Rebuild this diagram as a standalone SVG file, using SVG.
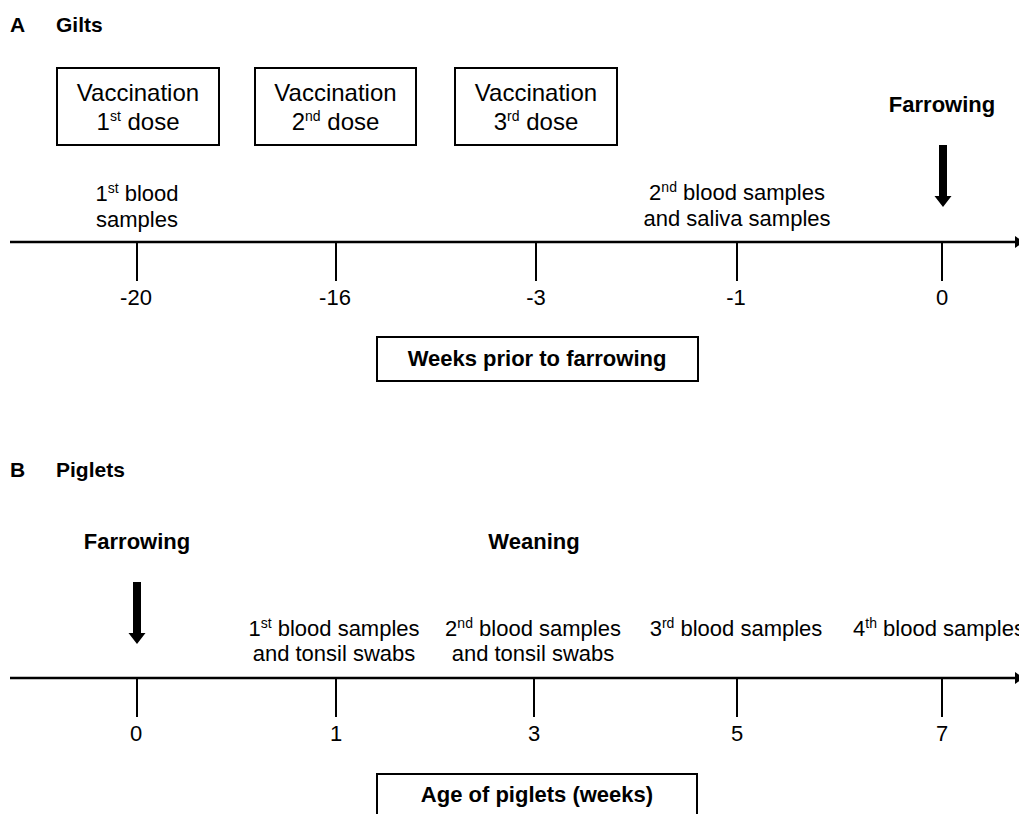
<svg xmlns="http://www.w3.org/2000/svg" width="1019" height="814" viewBox="0 0 1019 814">
<style>
text{font-family:"Liberation Sans",Arial,sans-serif;fill:#000}
.t{font-size:22px;text-anchor:middle}
.v{font-size:24px;text-anchor:middle}
.b{font-size:22px;font-weight:bold;text-anchor:middle}
.h{font-size:21px;font-weight:bold}
.sup{font-size:14px}
.box{fill:#fff;stroke:#000;stroke-width:2}
.axis{stroke:#000;stroke-width:2.5;fill:none}
.tick{stroke:#000;stroke-width:2}
</style>
<defs>
<marker id="ah" markerWidth="9" markerHeight="12" refX="0" refY="6" orient="auto" markerUnits="userSpaceOnUse">
<path d="M0,0 L9,6 L0,12 Z" fill="#000"/>
</marker>
<path id="bigarrow" d="M-4,0 H4 V51 H8.5 L0,62 L-8.5,51 H-4 Z" fill="#000"/>
</defs>
<rect width="1019" height="814" fill="#fff"/>

<g id="panelA-title">
<text class="h" x="10" y="32">A</text>
<text class="h" x="56" y="32">Gilts</text>
</g>

<g id="vacc1">
<rect class="box" x="57" y="68" width="162" height="77"/>
<text class="v" x="138" y="101">Vaccination</text>
<text class="v" x="138" y="130">1<tspan class="sup" dy="-9">st</tspan><tspan dy="9"> dose</tspan></text>
</g>
<g id="vacc2">
<rect class="box" x="255" y="68" width="161" height="77"/>
<text class="v" x="335.5" y="101">Vaccination</text>
<text class="v" x="335.5" y="130">2<tspan class="sup" dy="-9">nd</tspan><tspan dy="9"> dose</tspan></text>
</g>
<g id="vacc3">
<rect class="box" x="455" y="68" width="162" height="77"/>
<text class="v" x="536" y="101">Vaccination</text>
<text class="v" x="536" y="130">3<tspan class="sup" dy="-9">rd</tspan><tspan dy="9"> dose</tspan></text>
</g>

<g id="farrowingA">
<text class="b" x="942" y="112">Farrowing</text>
<use href="#bigarrow" x="943" y="145"/>
</g>

<g id="samplesA1">
<text class="t" x="137" y="201">1<tspan class="sup" dy="-8">st</tspan><tspan dy="8"> blood</tspan></text>
<text class="t" x="137" y="227">samples</text>
</g>
<g id="samplesA2">
<text class="t" x="737" y="200">2<tspan class="sup" dy="-8">nd</tspan><tspan dy="8"> blood samples</tspan></text>
<text class="t" x="737" y="226">and saliva samples</text>
</g>

<g id="axisA">
<line class="axis" x1="10" y1="242" x2="1015" y2="242" marker-end="url(#ah)"/>
<line class="tick" x1="137" y1="242" x2="137" y2="281"/>
<line class="tick" x1="336" y1="242" x2="336" y2="281"/>
<line class="tick" x1="536" y1="242" x2="536" y2="281"/>
<line class="tick" x1="737" y1="242" x2="737" y2="281"/>
<line class="tick" x1="942" y1="242" x2="942" y2="281"/>
<text class="t" x="136" y="305">-20</text>
<text class="t" x="335" y="305">-16</text>
<text class="t" x="536" y="305">-3</text>
<text class="t" x="736" y="305">-1</text>
<text class="t" x="942" y="305">0</text>
</g>

<g id="weeksBox">
<rect class="box" x="377" y="337" width="321" height="44"/>
<text class="b" x="537" y="366">Weeks prior to farrowing</text>
</g>

<g id="panelB-title">
<text class="h" x="10" y="477">B</text>
<text class="h" x="56" y="477">Piglets</text>
</g>

<g id="farrowingB">
<text class="b" x="137" y="549">Farrowing</text>
<use href="#bigarrow" x="137" y="582"/>
</g>
<g id="weaning">
<text class="b" x="534" y="549">Weaning</text>
</g>

<g id="samplesB1">
<text class="t" x="334" y="636">1<tspan class="sup" dy="-8">st</tspan><tspan dy="8"> blood samples</tspan></text>
<text class="t" x="334" y="661">and tonsil swabs</text>
</g>
<g id="samplesB2">
<text class="t" x="533" y="636">2<tspan class="sup" dy="-8">nd</tspan><tspan dy="8"> blood samples</tspan></text>
<text class="t" x="533" y="661">and tonsil swabs</text>
</g>
<g id="samplesB3">
<text class="t" x="736" y="636">3<tspan class="sup" dy="-8">rd</tspan><tspan dy="8"> blood samples</tspan></text>
</g>
<g id="samplesB4">
<text class="t" x="853" y="636" style="text-anchor:start">4<tspan class="sup" dy="-8">th</tspan><tspan dy="8"> blood samples</tspan></text>
</g>

<g id="axisB">
<line class="axis" x1="10" y1="678" x2="1015" y2="678" marker-end="url(#ah)"/>
<line class="tick" x1="137" y1="678" x2="137" y2="717"/>
<line class="tick" x1="336" y1="678" x2="336" y2="717"/>
<line class="tick" x1="534" y1="678" x2="534" y2="717"/>
<line class="tick" x1="737" y1="678" x2="737" y2="717"/>
<line class="tick" x1="942" y1="678" x2="942" y2="717"/>
<text class="t" x="136" y="741">0</text>
<text class="t" x="336" y="741">1</text>
<text class="t" x="534" y="741">3</text>
<text class="t" x="737" y="741">5</text>
<text class="t" x="942" y="741">7</text>
</g>

<g id="ageBox">
<rect class="box" x="377" y="774" width="320" height="50"/>
<text class="b" x="537" y="802">Age of piglets (weeks)</text>
</g>
</svg>
